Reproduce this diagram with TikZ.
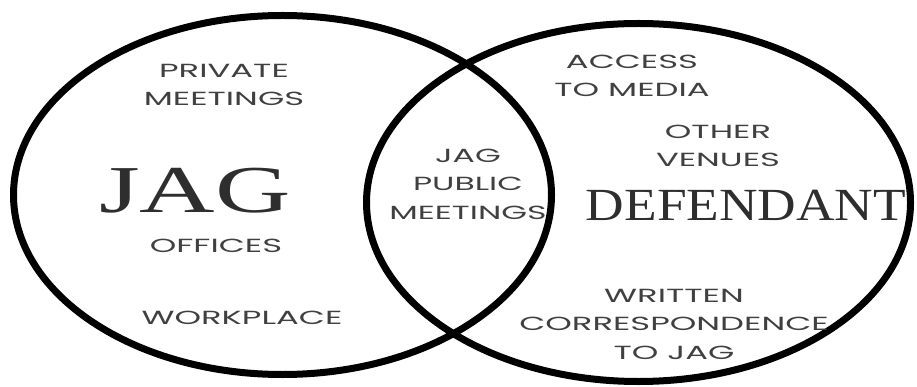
\documentclass[tikz,border=0pt]{standalone}
\usepackage{fontspec}
\newfontfamily\adv{Poppins}
\newfontfamily\bigserif{Liberation Serif}
\usetikzlibrary{shapes.geometric}
\begin{document}
\begin{tikzpicture}[x=1pt,y=-1pt,
  set/.style={ellipse, draw=black, line width=7pt, inner sep=0pt},
  lbl/.style={text=black!75, font=\adv\fontsize{19}{28.5}\selectfont, align=center, inner sep=0pt, xscale=1.78, transform shape},
  big/.style={text=black!82, font=\bigserif, inner sep=0pt}]
\useasboundingbox (0,0) rectangle (917,387);
\node[set, minimum width=538pt, minimum height=359pt] (L) at (282.5,195) {};
\node[set, minimum width=544pt, minimum height=358pt] (R) at (638.5,202.5) {};
\node[lbl] (pm) at (224,85) {PRIVATE\\MEETINGS};
\node[big, font=\bigserif\fontsize{67}{67}\selectfont, xscale=1.56, transform shape] (jag) at (195,191) {JAG};
\node[lbl] (off) at (216,246) {OFFICES};
\node[lbl] (wp) at (242,318) {WORKPLACE};
\node[lbl, xscale=0.98] (jpm) at (468,184) {JAG\\PUBLIC\\MEETINGS};
\node[lbl] (acc) at (632,76) {ACCESS\\TO MEDIA};
\node[lbl] (ov) at (718,146) {OTHER\\VENUES};
\node[big, font=\bigserif\fontsize{46}{46}\selectfont, xscale=1.16, transform shape] (def) at (746,205) {DEFENDANT};
\node[lbl] (wc) at (674,324) {WRITTEN\\CORRESPONDENCE\\TO JAG};
\end{tikzpicture}
\end{document}
